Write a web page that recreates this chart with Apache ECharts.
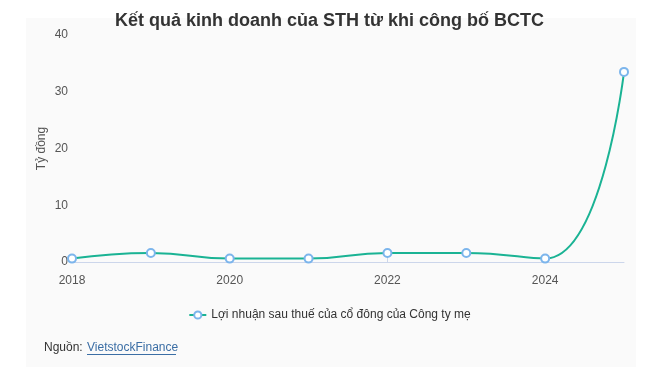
<!DOCTYPE html>
<html><head><meta charset="utf-8">
<script src="https://cdn.jsdelivr.net/npm/echarts@6/dist/echarts.min.js"></script>
<style>html,body{margin:0;padding:0;background:#fff}#c{width:659px;height:381px}</style>
</head><body><div id="c"></div>
<script>
const years = ['2018','2019','2020','2021','2022','2023','2024','2025'];
const profit = [0.6, 1.6, 0.6, 0.6, 1.6, 1.6, 0.6, 33.5];
const yTicks = [0, 10, 20, 30, 40];
const titleText = 'Kết quả kinh doanh của STH từ khi công bố BCTC';
const seriesName = 'Lợi nhuận sau thuế của cổ đông của Công ty mẹ';
const yName = 'Tỷ đồng';
const FONT = '"Liberation Sans", Arial, sans-serif';

const chart = echarts.init(document.getElementById('c'), null, {renderer:'canvas'});
chart.setOption({
  animation:false,
  backgroundColor:'#fff',
  graphic:[
    {type:'rect', z:-10, shape:{x:26,y:18,width:610,height:349}, style:{fill:'#fafafa'}},
    {type:'text', left:44, top:342, style:{text:'Nguồn: ', fill:'#333', font:'12px ' + FONT}},
    {type:'text', left:87, top:342, style:{text:'VietstockFinance', fill:'#3b6ea5', font:'12px ' + FONT}},
    {type:'rect', shape:{x:87,y:354,width:89,height:1}, style:{fill:'#3b6ea5'}}
  ],
  title:{text:titleText, left:'center', top:7,
    textStyle:{fontFamily:FONT, fontSize:18, fontWeight:'bold', color:'#333'}},
  legend:{top:304, left:'center', itemWidth:17, itemHeight:9, itemGap:6,
    textStyle:{fontFamily:FONT, fontSize:12, color:'#333'},
    data:[{name:seriesName}]},
  grid:{left:72, right:35, top:35, bottom:119},
  xAxis:{type:'category', data:years, boundaryGap:false,
    axisLine:{lineStyle:{color:'#ccd6eb'}},
    axisTick:{inside:true, length:6, interval:1, lineStyle:{color:'#ccd6eb'}},
    axisLabel:{interval:1, color:'#555', fontSize:12, margin:13, fontFamily:FONT}},
  yAxis:{type:'value', min:yTicks[0], max:yTicks[yTicks.length-1], interval:10,
    name:yName, nameLocation:'middle', nameGap:24, nameRotate:90, nameMoveOverlap:false,
    nameTextStyle:{color:'#555', fontSize:12, fontFamily:FONT},
    axisLine:{show:false}, axisTick:{show:false}, splitLine:{show:false},
    axisLabel:{color:'#555', fontSize:12, margin:4, fontFamily:FONT}},
  series:[{name:seriesName, type:'line', data:profit, smooth:0.5,
    symbol:'emptyCircle', symbolSize:8,
    lineStyle:{color:'#1ab394', width:2},
    itemStyle:{color:'#7cb5ec', borderColor:'#7cb5ec', borderWidth:2},
    color:'#1ab394'
  }]
});
</script></body></html>
